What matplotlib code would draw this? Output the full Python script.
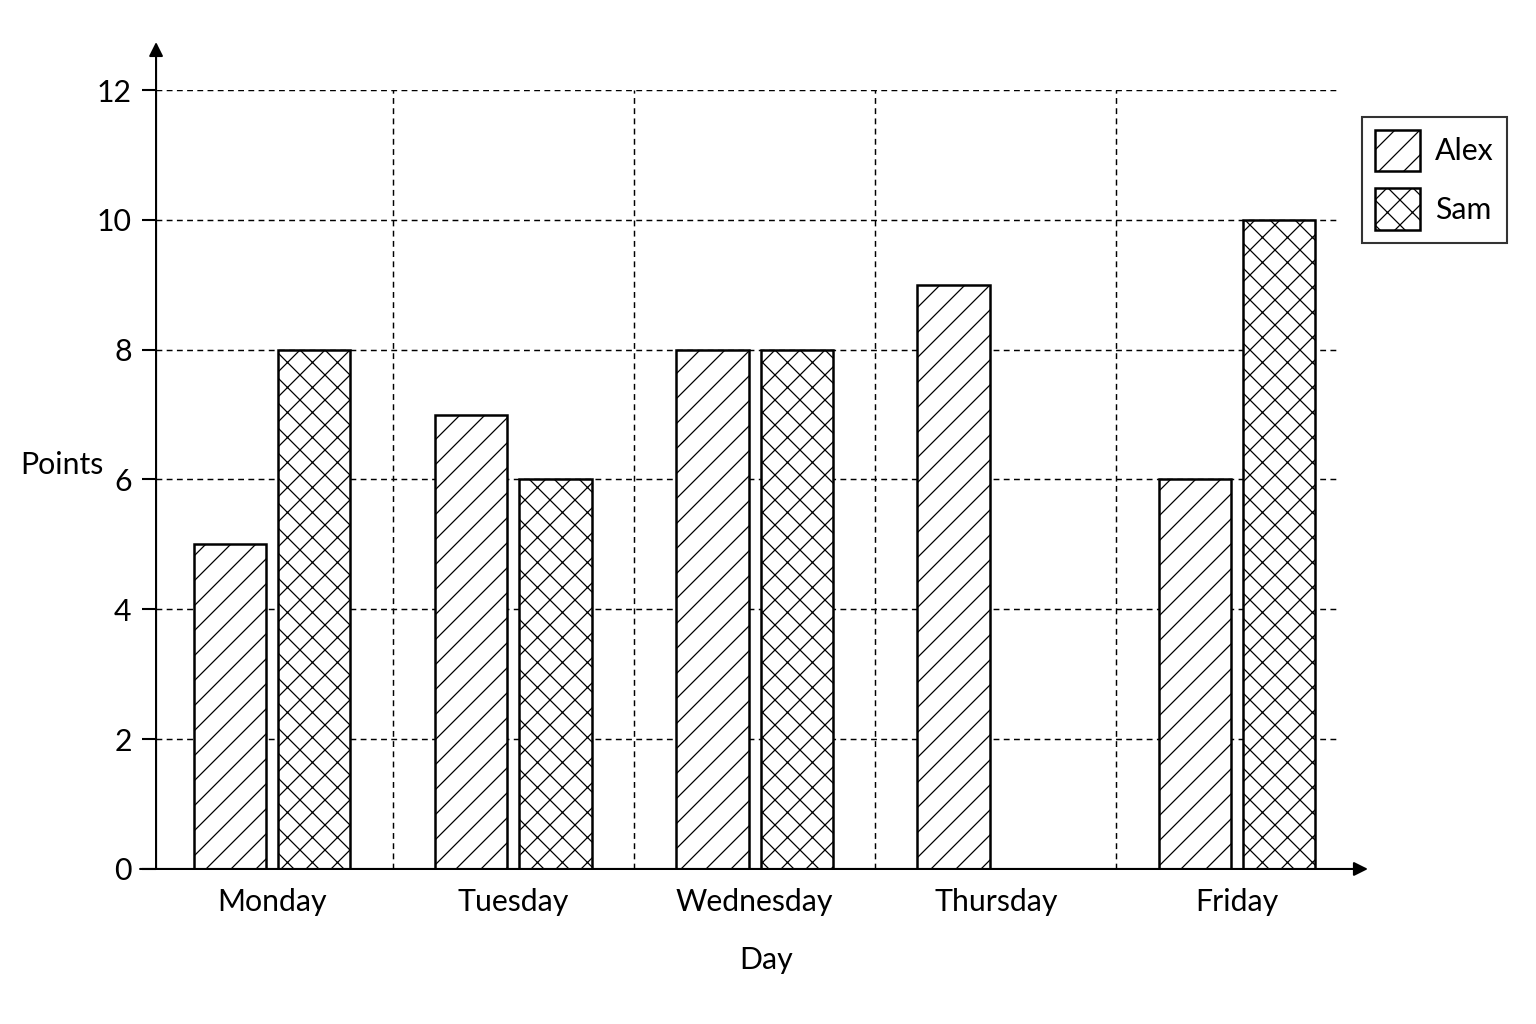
import numpy as np
import matplotlib
matplotlib.use('Agg')
import matplotlib.pyplot as plt

days = ['Monday', 'Tuesday', 'Wednesday', 'Thursday', 'Friday']
alex = [5, 7, 8, 9, 6]
sam = [8, 6, 8, 0, 10]

plt.rcParams['font.family'] = ['Lato', 'DejaVu Sans']
plt.rcParams['hatch.linewidth'] = 0.6

fig = plt.figure(figsize=(1536 / 150, 1024 / 150), dpi=150)
ax = fig.add_axes([0.1016, 0.1514, 0.7708, 0.7607])

x = np.arange(len(days))
w = 0.3
ax.bar(x - 0.175, alex, w, color='white', edgecolor='black', linewidth=1.2,
       hatch='//', label='Alex', zorder=3)
ax.bar(x + 0.175, sam, w, color='white', edgecolor='black', linewidth=1.2,
       hatch='xx', label='Sam', zorder=3)

ax.set_xlim(-0.481, 4.427)
ax.set_ylim(0, 12)
ax.set_yticks(range(0, 13, 2))
ax.set_xticks(x)
ax.set_xticklabels(days)
ax.set_xticks(x[:-1] + 0.5, minor=True)

ax.grid(axis='y', which='major', linestyle=(0, (4, 3)), linewidth=0.7, color='black', zorder=0)
ax.grid(axis='x', which='minor', linestyle=(0, (4, 3)), linewidth=0.7, color='black', zorder=0)
ax.grid(axis='x', which='major', visible=False)

for s in ax.spines.values():
    s.set_visible(False)

fs = 14.5
ax.tick_params(axis='y', direction='out', length=6.7, width=1.0, pad=5, labelsize=fs)
ax.tick_params(axis='x', which='both', length=0, pad=9, labelsize=fs)

# axis arrows
ax.annotate('', xy=(0, 1.0616), xytext=(0, 0), xycoords='axes fraction',
            arrowprops=dict(arrowstyle='-|>', color='black', lw=1.0, mutation_scale=14,
                            shrinkA=0, shrinkB=0), annotation_clip=False)
ax.annotate('', xy=(1.0236, 0), xytext=(-0.0135, 0), xycoords='axes fraction',
            arrowprops=dict(arrowstyle='-|>', color='black', lw=1.0, mutation_scale=14,
                            shrinkA=0, shrinkB=0), annotation_clip=False)

ax.set_ylabel('Points', rotation=0, fontsize=fs, ha='center', va='center')
ax.yaxis.set_label_coords(-0.0794, 0.5186)
ax.set_xlabel('Day', fontsize=fs, ha='center', va='center')
ax.xaxis.set_label_coords(0.515, -0.1168)

leg = fig.legend(loc='upper left', bbox_to_anchor=(1362 / 1536, 1 - 117 / 1024),
                 fontsize=fs, frameon=True, fancybox=False, edgecolor='black',
                 handlelength=1.5, handleheight=1.75, labelspacing=0.55,
                 handletextpad=0.5, borderpad=0.42, borderaxespad=0)
leg.get_frame().set_linewidth(1.0)

fig.savefig('out.png', dpi=150, facecolor='white')
